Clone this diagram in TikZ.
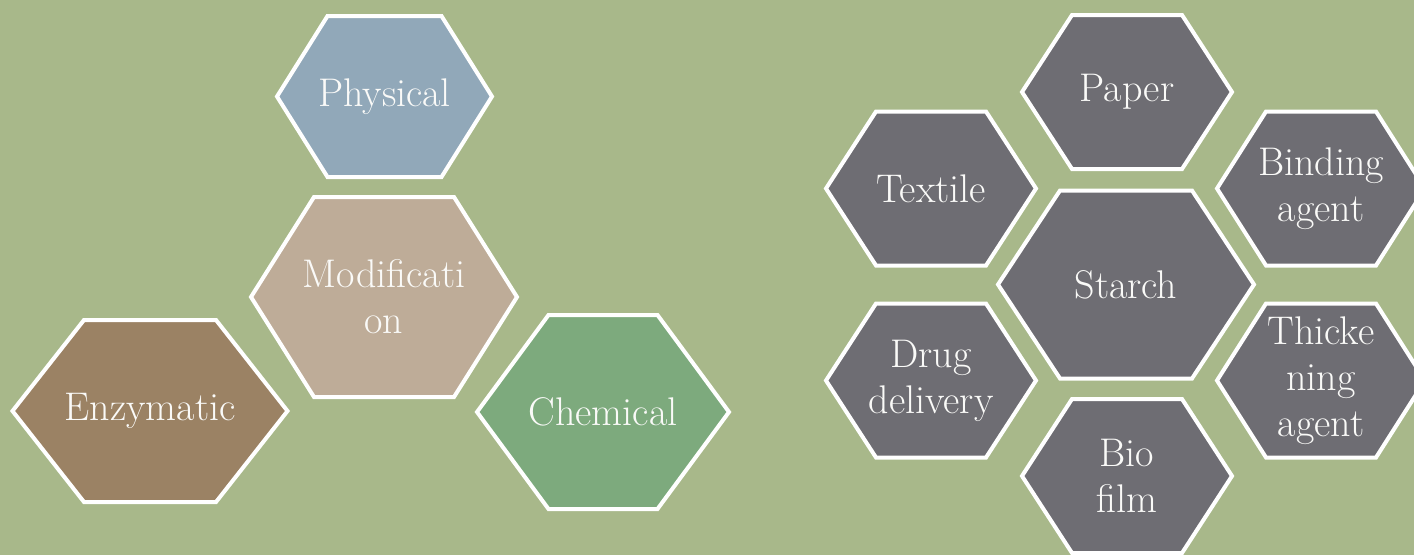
\documentclass[tikz,border=0pt]{standalone}
\usepackage{fontspec}
\definecolor{bg}{RGB}{168,184,138}
\definecolor{cphys}{RGB}{145,168,185}
\definecolor{cmod}{RGB}{190,172,152}
\definecolor{cenz}{RGB}{155,130,100}
\definecolor{cchem}{RGB}{125,170,125}
\definecolor{cgray}{RGB}{110,109,115}
\definecolor{txt}{RGB}{250,250,248}
\tikzset{
  hexline/.style={draw=white, line width=4pt, line join=miter},
  hexlabel/.style={text=txt, align=center, inner sep=0pt,
    font=\fontsize{40}{46}\selectfont},
}
% #1 name, #2 cx, #3 cy, #4 half width, #5 half height, #6 half top edge, #7 fill, #8 text
\newcommand\hexcell[8]{%
  \filldraw[hexline, fill=#7]
    ({#2-#4},{#3}) -- ({#2-#6},{#3-#5}) -- ({#2+#6},{#3-#5}) --
    ({#2+#4},{#3}) -- ({#2+#6},{#3+#5}) -- ({#2-#6},{#3+#5}) -- cycle;
  \node[hexlabel] (#1) at ({#2},{#3}) {#8};%
}
\begin{document}
\begin{tikzpicture}[x=1pt,y=-1pt]
\useasboundingbox (0,0) rectangle (1414,555);
\fill[bg] (0,0) rectangle (1414,555);
% left group
\hexcell{phys}{384.5}{96.5}{107.5}{80.5}{57}{cphys}{Physical}
\hexcell{modif}{384}{297}{133}{100}{70}{cmod}{Modificati\\on}
\hexcell{enz}{150}{411}{137.5}{91}{66}{cenz}{Enzymatic}
\hexcell{chem}{603}{412}{126}{97}{54.5}{cchem}{Chemical}
% right group
\hexcell{paper}{1127}{92}{105}{77}{55}{cgray}{Paper}
\hexcell{textile}{931}{188.5}{105}{77}{55}{cgray}{Textile}
\hexcell{binding}{1321}{188.5}{104}{77}{55}{cgray}{Binding\\agent}
\hexcell{starch}{1126}{284.5}{128}{94}{66}{cgray}{Starch}
\hexcell{drug}{931}{380.5}{105}{77}{55}{cgray}{Drug\\delivery}
\hexcell{thick}{1321}{380.5}{104}{77}{55}{cgray}{Thicke\\ning\\agent}
\hexcell{bio}{1127}{476}{105}{77}{55}{cgray}{Bio\\film}
\end{tikzpicture}
\end{document}
